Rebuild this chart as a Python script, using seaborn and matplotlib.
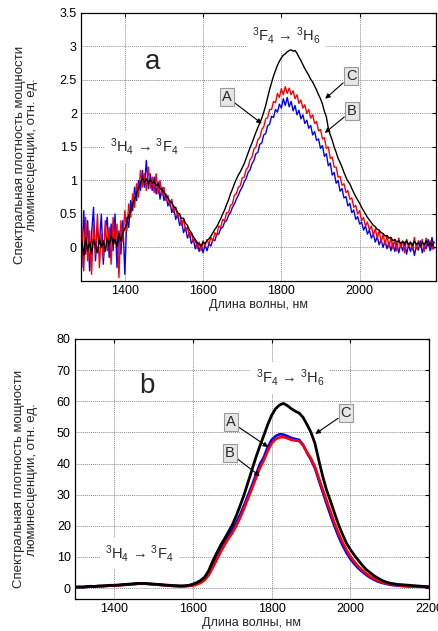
"""
plot.py

Luminescence spectra of two samples (panels a and b).
Output: out.png
"""

import numpy as np
import pandas as pd
import matplotlib
matplotlib.use("Agg")
import matplotlib.pyplot as plt
import seaborn as sns


# Panel a data: 5 nm step, 1290 ... 2190 nm

black_a = [
    0.10, -0.12, 0.15, -0.05, 0.08, -0.10, 0.12, 0.02, -0.08, 0.15, 0.00, 0.10,
    -0.06, 0.14, 0.03, 0.18, 0.05, 0.12, 0.02, 0.20, 0.10, 0.22,
    0.28, 0.36, 0.48, 0.55, 0.66, 0.72, 0.82, 0.88, 0.96, 1.04, 0.97, 1.03,
    0.95, 1.01, 0.96, 0.99, 0.92, 0.95, 0.88, 0.86, 0.82, 0.77, 0.74, 0.69,
    0.67, 0.61, 0.59, 0.52, 0.50, 0.43, 0.44, 0.36, 0.33, 0.26, 0.22, 0.16,
    0.12, 0.07, 0.05, 0.02,
    0.08, 0.06, 0.10, 0.13, 0.17, 0.22, 0.27, 0.31, 0.37, 0.43, 0.50, 0.56,
    0.64, 0.71, 0.80, 0.87, 0.95, 1.02, 1.08, 1.13, 1.19, 1.25, 1.33, 1.41,
    1.49, 1.56, 1.64, 1.72, 1.79, 1.86, 1.93, 2.02, 2.12, 2.24, 2.36, 2.46,
    2.56, 2.64, 2.72, 2.78, 2.83, 2.87, 2.89, 2.92, 2.94, 2.95, 2.93, 2.94,
    2.90, 2.84, 2.79, 2.73, 2.67, 2.62, 2.57, 2.51, 2.47, 2.41, 2.35, 2.28,
    2.22, 2.14, 2.03, 1.95, 1.78, 1.68, 1.60, 1.50, 1.42, 1.33, 1.27, 1.20,
    1.12, 1.05, 0.99, 0.95, 0.88, 0.82, 0.76, 0.71, 0.66, 0.60, 0.55, 0.50,
    0.45, 0.41, 0.37, 0.33, 0.31, 0.27, 0.26, 0.22, 0.21, 0.17, 0.18, 0.14,
    0.15, 0.10, 0.12, 0.08, 0.10, 0.06, 0.09, 0.05, 0.10, 0.04, 0.08, 0.03,
    0.09, 0.05, 0.07, 0.02, 0.08, 0.04, 0.10, 0.03, 0.07, 0.02, 0.08,
]

red_a = [
    0.30, -0.35, 0.45, -0.20, 0.25, -0.40, 0.35, -0.10, 0.50, -0.30, 0.20,
    -0.15, 0.40, -0.05, 0.30, -0.25, 0.45, 0.05, 0.35, -0.45, 0.40, 0.10,
    0.55, 0.25, 0.65, 0.45, 0.80, 0.60, 0.95, 0.75, 1.15, 0.90, 1.10, 0.85,
    1.20, 0.88, 1.05, 0.82, 1.10, 0.80, 1.00, 0.78, 0.90, 0.70, 0.78, 0.62,
    0.72, 0.52, 0.60, 0.45, 0.50, 0.33, 0.42, 0.25, 0.30, 0.15, 0.22, 0.08,
    0.12, -0.02, 0.08, -0.05,
    0.10, 0.02, 0.12, 0.05, 0.15, 0.10, 0.22, 0.18, 0.32, 0.30, 0.42, 0.40,
    0.52, 0.52, 0.63, 0.65, 0.78, 0.80, 0.90, 0.92, 1.04, 1.05, 1.16, 1.20,
    1.31, 1.35, 1.47, 1.50, 1.61, 1.64, 1.76, 1.80, 1.92, 1.94, 2.06, 2.06,
    2.18, 2.16, 2.30, 2.24, 2.37, 2.28, 2.40, 2.30, 2.38, 2.28, 2.34, 2.22,
    2.28, 2.15, 2.20, 2.08, 2.13, 2.00, 2.06, 1.93, 1.98, 1.85, 1.88, 1.74,
    1.76, 1.62, 1.64, 1.48, 1.50, 1.33, 1.35, 1.20, 1.20, 1.05, 1.06, 0.93,
    0.95, 0.82, 0.85, 0.72, 0.74, 0.60, 0.63, 0.50, 0.55, 0.40, 0.45, 0.32,
    0.38, 0.26, 0.32, 0.18, 0.28, 0.14, 0.25, 0.08, 0.20, 0.04, 0.18, 0.00,
    0.15, -0.02, 0.12, -0.05, 0.14, 0.00, 0.10, -0.08, 0.12, 0.02, 0.08, -0.04,
    0.15, -0.02, 0.10, 0.00, 0.12, -0.06, 0.14, 0.02, 0.10, -0.03, 0.08,
]

blue_a = [
    -0.30, 0.55, -0.10, 0.40, -0.35, 0.20, 0.60, -0.20, 0.30, 0.05, 0.50,
    -0.25, 0.25, 0.45, -0.15, 0.35, -0.05, 0.50, -0.30, 0.25, -0.10, 0.40,
    -0.40, 0.45, 0.30, 0.70, 0.55, 0.90, 0.70, 1.00, 0.85, 1.15, 0.90, 1.30,
    0.88, 1.10, 0.85, 1.05, 0.80, 0.98, 0.72, 0.90, 0.70, 0.80, 0.62, 0.70,
    0.52, 0.60, 0.42, 0.50, 0.33, 0.40, 0.22, 0.30, 0.14, 0.22, 0.06, 0.12,
    -0.02, 0.08, -0.06, 0.05,
    -0.08, 0.04, -0.05, 0.06, 0.02, 0.12, 0.10, 0.20, 0.20, 0.28, 0.30, 0.38,
    0.40, 0.48, 0.52, 0.60, 0.65, 0.72, 0.78, 0.85, 0.90, 0.98, 1.03, 1.12,
    1.16, 1.25, 1.30, 1.40, 1.42, 1.54, 1.56, 1.68, 1.70, 1.82, 1.84, 1.96,
    1.94, 2.06, 2.02, 2.14, 2.08, 2.22, 2.12, 2.24, 2.10, 2.18, 2.04, 2.12,
    1.98, 2.05, 1.92, 1.98, 1.85, 1.90, 1.78, 1.82, 1.68, 1.73, 1.60, 1.62,
    1.48, 1.52, 1.36, 1.40, 1.22, 1.26, 1.08, 1.12, 0.96, 1.00, 0.84, 0.88,
    0.74, 0.76, 0.62, 0.66, 0.52, 0.56, 0.42, 0.46, 0.35, 0.38, 0.26, 0.32,
    0.20, 0.26, 0.14, 0.20, 0.08, 0.16, 0.04, 0.12, 0.00, 0.10, -0.02, 0.08,
    -0.05, 0.07, -0.06, 0.06, -0.08, 0.05, -0.05, 0.08, -0.10, 0.04, -0.06, 0.06,
    -0.12, 0.02, -0.04, 0.10, -0.08, 0.03, -0.02, 0.12, -0.05, 0.15, -0.02,
]


# Panel b data: 10 nm step, 1300 ... 2200 nm

black_b = [
    0.3, 0.4, 0.3, 0.5, 0.6, 0.5, 0.7, 0.7, 0.8, 0.9, 0.9, 1.0, 1.1, 1.2, 1.3,
    1.4, 1.5, 1.5, 1.5, 1.4, 1.3, 1.2, 1.1, 1.0, 0.9, 0.8, 0.75, 0.7, 0.75, 0.9,
    1.3, 1.8, 2.5, 3.6, 5.6, 8.6, 11.2, 13.7, 15.8, 18.0, 20.3, 23.2, 26.5,
    30.0, 34.0, 38.0, 42.0, 45.6, 49.0, 52.5, 55.5, 57.6, 58.8, 59.3, 58.6,
    57.6, 56.8, 56.2, 54.8, 52.5, 50.0, 46.5, 41.0, 35.8, 31.3, 27.8, 24.0,
    20.4, 17.3, 14.5, 12.4, 10.6, 9.0, 7.4, 6.0, 5.0, 4.0, 3.2, 2.5, 2.0, 1.6,
    1.4, 1.2, 1.1, 1.0, 0.9, 0.8, 0.7, 0.6, 0.5, 0.4,
]

blue_b = [
    0.2, 0.3, 0.3, 0.4, 0.5, 0.5, 0.6, 0.6, 0.7, 0.8, 0.8, 0.9, 1.0, 1.1, 1.2,
    1.3, 1.4, 1.4, 1.4, 1.3, 1.2, 1.1, 1.0, 0.9, 0.8, 0.7, 0.65, 0.6, 0.65, 0.8,
    1.0, 1.4, 2.0, 3.0, 4.8, 7.4, 10.0, 12.5, 14.8, 16.8, 18.6, 21.0, 23.6,
    26.6, 29.8, 33.0, 36.4, 39.8, 42.0, 45.3, 47.6, 48.8, 49.4, 49.3, 48.8,
    48.2, 47.9, 47.6, 46.0, 43.4, 41.2, 38.5, 34.6, 30.8, 27.0, 23.3, 19.8,
    16.6, 13.8, 11.4, 9.4, 7.8, 6.4, 5.3, 4.3, 3.4, 2.7, 2.1, 1.7, 1.4, 1.1,
    0.9, 0.8, 0.7, 0.6, 0.55, 0.5, 0.45, 0.4, 0.4, 0.35,
]

red_b = [
    0.3, 0.3, 0.4, 0.4, 0.5, 0.6, 0.6, 0.7, 0.7, 0.8, 0.9, 0.9, 1.0, 1.1, 1.2,
    1.3, 1.4, 1.5, 1.4, 1.3, 1.2, 1.1, 1.0, 0.9, 0.8, 0.7, 0.65, 0.6, 0.6, 0.7,
    0.8, 1.2, 1.7, 2.6, 4.2, 6.5, 9.0, 11.5, 13.8, 15.9, 17.7, 20.0, 22.6,
    25.6, 28.8, 32.0, 35.3, 38.5, 41.0, 44.0, 46.5, 47.8, 48.4, 48.5, 48.1,
    47.6, 47.4, 47.2, 45.8, 43.6, 41.6, 39.0, 35.3, 31.6, 28.0, 24.4, 20.8,
    17.6, 14.8, 12.3, 10.2, 8.5, 7.0, 5.8, 4.7, 3.8, 3.0, 2.4, 1.9, 1.6, 1.3,
    1.1, 0.9, 0.8, 0.7, 0.6, 0.55, 0.5, 0.45, 0.4, 0.4,
]

xticks_a = [1400, 1600, 1800, 2000]
yticks_a = [0, 0.5, 1, 1.5, 2, 2.5, 3, 3.5]
xticks_b = [1400, 1600, 1800, 2000, 2200]
yticks_b = [0, 10, 20, 30, 40, 50, 60, 70, 80]

ylabel_text = "Спектральная плотность мощности\nлюминесценции, отн. ед."
xlabel_text = "Длина волны, нм"
label_low = r"$^{3}$H$_{4}$ → $^{3}$F$_{4}$"
label_high = r"$^{3}$F$_{4}$ → $^{3}$H$_{6}$"


# Style

sns.set_theme(style="white")
plt.rcParams["font.family"] = ["Liberation Sans", "DejaVu Sans"]
plt.rcParams["mathtext.default"] = "regular"
plt.rcParams["xtick.direction"] = "in"
plt.rcParams["ytick.direction"] = "in"


def to_frame(values, start, stop):
    return pd.DataFrame({
        "wl": np.linspace(start, stop, len(values)),
        "val": values
    })


def style_axes(ax, xticks, yticks, xlim, ylim):
    ax.set_xlim(*xlim)
    ax.set_ylim(*ylim)
    ax.set_xticks(xticks)
    ax.set_yticks(yticks)
    ax.set_yticklabels([f"{t:g}" for t in yticks])
    ax.tick_params(labelsize=9, length=3, width=0.8, top=True, right=True,
                   colors="black", pad=3)
    ax.set_axisbelow(True)
    ax.grid(True, color="#8c8c8c", linestyle=(0, (1, 1)), linewidth=0.7)
    for spine in ax.spines.values():
        spine.set_color("black")
        spine.set_linewidth(0.9)
    ax.set_xlabel(xlabel_text, fontsize=9, labelpad=1)
    ax.set_ylabel(ylabel_text, fontsize=9.5, linespacing=1.1)


def letter_box(ax, letter, text_xy, point_xy):
    ax.annotate(
        letter, xy=point_xy, xytext=text_xy, fontsize=10.5,
        ha="center", va="center", zorder=6,
        bbox=dict(boxstyle="square,pad=0.15", facecolor="#e6e6e6",
                  edgecolor="#9a9a9a", linewidth=0.8),
        arrowprops=dict(arrowstyle="-|>", color="black", lw=0.8,
                        mutation_scale=7, shrinkA=0, shrinkB=0)
    )


def level_text(ax, text, xy):
    # white box hides the grid behind the text, curves stay on top
    ax.text(*xy, text, fontsize=10.5, ha="center", va="center", zorder=1.5,
            bbox=dict(boxstyle="square,pad=0.35", facecolor="white",
                      edgecolor="none"))


fig = plt.figure(figsize=(4.39, 6.31), dpi=100)
ax_a = fig.add_axes([0.1845, 0.5547, 0.8085, 0.4247])
ax_b = fig.add_axes([0.1708, 0.0507, 0.8064, 0.4121])


# Panel a

for values, color in [(blue_a, "#0000ff"), (red_a, "#ff0000"), (black_a, "black")]:
    sns.lineplot(data=to_frame(values, 1290, 2190), x="wl", y="val",
                 color=color, linewidth=1.0, estimator=None, ax=ax_a)

style_axes(ax_a, xticks_a, yticks_a, (1288, 2195), (-0.5, 3.5))
ax_a.yaxis.set_label_coords(-0.12, 0.47)

ax_a.text(1470, 2.77, "a", fontsize=20, ha="center", va="center")
level_text(ax_a, label_low, (1450, 1.5))
level_text(ax_a, label_high, (1813, 3.17))
letter_box(ax_a, "A", (1660, 2.25), (1750, 1.85))
letter_box(ax_a, "C", (1978, 2.56), (1912, 2.22))
letter_box(ax_a, "B", (1980, 2.04), (1911, 1.71))


# Panel b

for values, color, lw in [(blue_b, "#0000ff", 1.9), (red_b, "#ff0000", 1.9),
                          (black_b, "black", 2.0)]:
    sns.lineplot(data=to_frame(values, 1300, 2200), x="wl", y="val",
                 color=color, linewidth=lw, estimator=None, ax=ax_b)

style_axes(ax_b, xticks_b, yticks_b, (1300, 2200), (-3.5, 80))
ax_b.yaxis.set_label_coords(-0.105, 0.46)

ax_b.text(1484, 65, "b", fontsize=20, ha="center", va="center")
level_text(ax_b, label_high, (1846, 67.5))
level_text(ax_b, label_low, (1464, 11))
letter_box(ax_b, "A", (1696, 53.4), (1791, 45.3))
letter_box(ax_b, "B", (1693, 43.4), (1770, 36.0))
letter_box(ax_b, "C", (1989, 56.3), (1911, 49.5))

fig.savefig("out.png", dpi=100)
